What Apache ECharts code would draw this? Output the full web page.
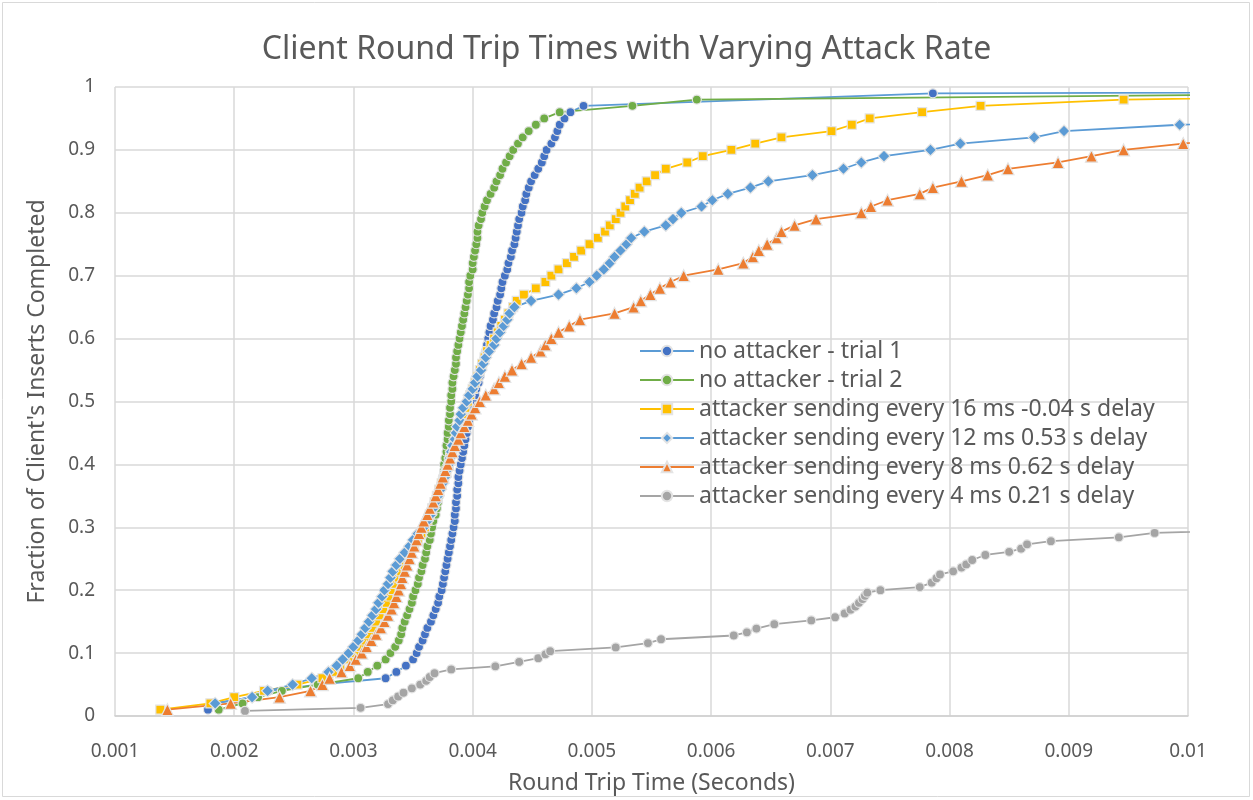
<!DOCTYPE html>
<html>
<head>
<meta charset="utf-8">
<script src="https://cdn.jsdelivr.net/npm/echarts@6/dist/echarts.min.js"></script>
<style>
html,body{margin:0;padding:0;background:#fff;}
#chart{width:1253px;height:800px;}
</style>
</head>
<body>
<div id="chart"></div>
<script>
const seriesNames = [
  "no attacker - trial 1",
  "no attacker - trial 2",
  "attacker sending every 16 ms -0.04 s delay",
  "attacker sending every 12 ms 0.53 s delay",
  "attacker sending every 8 ms 0.62 s delay",
  "attacker sending every 4 ms 0.21 s delay"
];
const xTicks = [0.001,0.002,0.003,0.004,0.005,0.006,0.007,0.008,0.009,0.01];
const yTicks = [0,0.1,0.2,0.3,0.4,0.5,0.6,0.7,0.8,0.9,1];

const trial1 = [[0.00178,0.01],[0.00183,0.02],[0.00215,0.03],[0.00229,0.04],[0.0027,0.05],[0.00327,0.06],[0.00336,0.07],[0.00344,0.08],[0.0035,0.09],[0.00353,0.10],[0.00355,0.11],[0.00358,0.12],[0.0036,0.13],[0.00362,0.14],[0.00365,0.15],[0.00367,0.16],[0.00369,0.17],[0.00371,0.18],[0.00372,0.19],[0.00374,0.20],[0.00375,0.21],[0.00376,0.22],[0.00377,0.23],[0.00378,0.24],[0.00379,0.25],[0.0038,0.26],[0.00381,0.27],[0.00382,0.28],[0.00383,0.29],[0.00384,0.30],[0.00385,0.31],[0.00385,0.32],[0.00386,0.33],[0.00386,0.34],[0.00387,0.35],[0.00387,0.36],[0.00388,0.37],[0.00388,0.38],[0.00389,0.39],[0.0039,0.40],[0.00391,0.41],[0.00392,0.42],[0.00393,0.43],[0.00394,0.44],[0.00395,0.45],[0.00396,0.46],[0.00397,0.47],[0.00398,0.48],[0.00399,0.49],[0.004,0.50],[0.00402,0.51],[0.00403,0.52],[0.00405,0.53],[0.00406,0.54],[0.00407,0.55],[0.00408,0.56],[0.0041,0.57],[0.00411,0.58],[0.00412,0.59],[0.00413,0.60],[0.00414,0.61],[0.00415,0.62],[0.00417,0.63],[0.00418,0.64],[0.0042,0.65],[0.00421,0.66],[0.00423,0.67],[0.00424,0.68],[0.00425,0.69],[0.00427,0.70],[0.00429,0.71],[0.0043,0.72],[0.00432,0.73],[0.00433,0.74],[0.00435,0.75],[0.00436,0.76],[0.00437,0.77],[0.00438,0.78],[0.00439,0.79],[0.00441,0.80],[0.00442,0.81],[0.00444,0.82],[0.00445,0.83],[0.00447,0.84],[0.00449,0.85],[0.00452,0.86],[0.00455,0.87],[0.00458,0.88],[0.0046,0.89],[0.00462,0.90],[0.00466,0.91],[0.00469,0.92],[0.00471,0.93],[0.00473,0.94],[0.00477,0.95],[0.00482,0.96],[0.00493,0.97],[0.00786,0.99],[0.03,1.0]];

const trial2 = [[0.00187,0.01],[0.00207,0.02],[0.0022,0.03],[0.0024,0.04],[0.0027,0.05],[0.00304,0.06],[0.00312,0.07],[0.0032,0.08],[0.00327,0.09],[0.00331,0.10],[0.00335,0.11],[0.00338,0.12],[0.0034,0.13],[0.00341,0.14],[0.00343,0.15],[0.00345,0.16],[0.00347,0.17],[0.00349,0.18],[0.0035,0.19],[0.00352,0.20],[0.00354,0.21],[0.00355,0.22],[0.00357,0.23],[0.00358,0.24],[0.0036,0.25],[0.00361,0.26],[0.00362,0.27],[0.00364,0.28],[0.00365,0.29],[0.00366,0.30],[0.00367,0.31],[0.00369,0.32],[0.0037,0.33],[0.00371,0.34],[0.00372,0.35],[0.00373,0.36],[0.00374,0.37],[0.00375,0.38],[0.00376,0.39],[0.00376,0.40],[0.00377,0.41],[0.00378,0.42],[0.00378,0.43],[0.00379,0.44],[0.00379,0.45],[0.0038,0.46],[0.0038,0.47],[0.00381,0.48],[0.00381,0.49],[0.00382,0.50],[0.00382,0.51],[0.00383,0.52],[0.00383,0.53],[0.00384,0.54],[0.00385,0.55],[0.00386,0.56],[0.00386,0.57],[0.00387,0.58],[0.00388,0.59],[0.00389,0.60],[0.0039,0.61],[0.00391,0.62],[0.00392,0.63],[0.00393,0.64],[0.00394,0.65],[0.00395,0.66],[0.00396,0.67],[0.00397,0.68],[0.00397,0.69],[0.00398,0.70],[0.004,0.71],[0.004,0.72],[0.00401,0.73],[0.00402,0.74],[0.00403,0.75],[0.00404,0.76],[0.00404,0.77],[0.00405,0.78],[0.00407,0.79],[0.00408,0.80],[0.0041,0.81],[0.00412,0.82],[0.00415,0.83],[0.00418,0.84],[0.0042,0.85],[0.00423,0.86],[0.00425,0.87],[0.00428,0.88],[0.00431,0.89],[0.00434,0.90],[0.00438,0.91],[0.00442,0.92],[0.00447,0.93],[0.00453,0.94],[0.0046,0.95],[0.00473,0.96],[0.00534,0.97],[0.00588,0.98],[0.0118,0.99]];

const attack16 = [[0.00138,0.01],[0.0018,0.02],[0.002,0.03],[0.00225,0.04],[0.00253,0.05],[0.00274,0.06],[0.00283,0.07],[0.00289,0.08],[0.00296,0.09],[0.00302,0.10],[0.00306,0.11],[0.0031,0.12],[0.00313,0.13],[0.00316,0.14],[0.00319,0.15],[0.00322,0.16],[0.00325,0.17],[0.00328,0.18],[0.00331,0.19],[0.00333,0.20],[0.00335,0.21],[0.00338,0.22],[0.0034,0.23],[0.00343,0.24],[0.00346,0.25],[0.00348,0.26],[0.00351,0.27],[0.00354,0.28],[0.00357,0.29],[0.0036,0.30],[0.00362,0.31],[0.00364,0.32],[0.00366,0.33],[0.00368,0.34],[0.0037,0.35],[0.00372,0.36],[0.00374,0.37],[0.00376,0.38],[0.00378,0.39],[0.0038,0.40],[0.00381,0.41],[0.00383,0.42],[0.00384,0.43],[0.00386,0.44],[0.00387,0.45],[0.00389,0.46],[0.0039,0.47],[0.00392,0.48],[0.00394,0.49],[0.00396,0.50],[0.00398,0.51],[0.004,0.52],[0.00402,0.53],[0.00404,0.54],[0.00406,0.55],[0.00408,0.56],[0.0041,0.57],[0.00412,0.58],[0.00415,0.59],[0.00418,0.60],[0.00421,0.61],[0.00424,0.62],[0.00427,0.63],[0.0043,0.64],[0.00434,0.65],[0.00437,0.66],[0.00443,0.67],[0.00453,0.68],[0.00461,0.69],[0.00466,0.70],[0.00472,0.71],[0.00479,0.72],[0.00485,0.73],[0.00491,0.74],[0.00498,0.75],[0.00505,0.76],[0.00511,0.77],[0.00515,0.78],[0.0052,0.79],[0.00524,0.80],[0.00528,0.81],[0.00532,0.82],[0.00536,0.83],[0.0054,0.84],[0.00546,0.85],[0.00553,0.86],[0.00562,0.87],[0.0058,0.88],[0.00593,0.89],[0.00617,0.90],[0.00637,0.91],[0.00659,0.92],[0.00701,0.93],[0.00718,0.94],[0.00733,0.95],[0.00777,0.96],[0.00826,0.97],[0.00946,0.98],[0.013,0.99]];

const attack12 = [[0.00184,0.02],[0.00215,0.03],[0.00228,0.04],[0.00249,0.05],[0.00265,0.06],[0.00279,0.07],[0.00286,0.08],[0.00291,0.09],[0.00296,0.10],[0.003,0.11],[0.00304,0.12],[0.00307,0.13],[0.0031,0.14],[0.00313,0.15],[0.00316,0.16],[0.00319,0.17],[0.00321,0.18],[0.00324,0.19],[0.00326,0.20],[0.00329,0.21],[0.00331,0.22],[0.00333,0.23],[0.00336,0.24],[0.00339,0.25],[0.00343,0.26],[0.00347,0.27],[0.0035,0.28],[0.00354,0.29],[0.00359,0.30],[0.00362,0.31],[0.00365,0.32],[0.00367,0.33],[0.00369,0.34],[0.00371,0.35],[0.00373,0.36],[0.00375,0.37],[0.00377,0.38],[0.00378,0.39],[0.0038,0.40],[0.00381,0.41],[0.00382,0.42],[0.00383,0.43],[0.00385,0.44],[0.00386,0.45],[0.00387,0.46],[0.00389,0.47],[0.0039,0.48],[0.00392,0.49],[0.00395,0.50],[0.00397,0.51],[0.004,0.52],[0.00402,0.53],[0.00404,0.54],[0.00407,0.55],[0.00409,0.56],[0.00411,0.57],[0.00414,0.58],[0.00418,0.59],[0.0042,0.60],[0.00423,0.61],[0.00426,0.62],[0.00429,0.63],[0.00431,0.64],[0.00435,0.65],[0.00449,0.66],[0.00472,0.67],[0.00487,0.68],[0.00498,0.69],[0.00504,0.70],[0.0051,0.71],[0.00515,0.72],[0.00519,0.73],[0.00524,0.74],[0.00529,0.75],[0.00533,0.76],[0.00544,0.77],[0.00562,0.78],[0.00568,0.79],[0.00575,0.80],[0.00592,0.81],[0.00601,0.82],[0.00614,0.83],[0.00633,0.84],[0.00648,0.85],[0.00685,0.86],[0.00711,0.87],[0.00726,0.88],[0.00745,0.89],[0.00784,0.90],[0.00809,0.91],[0.00871,0.92],[0.00896,0.93],[0.00993,0.94],[0.0115,0.95]];

const attack8 = [[0.00144,0.01],[0.00197,0.02],[0.00238,0.03],[0.00264,0.04],[0.00274,0.05],[0.0028,0.06],[0.0029,0.07],[0.00297,0.08],[0.00302,0.09],[0.00307,0.10],[0.00311,0.11],[0.00315,0.12],[0.00319,0.13],[0.00323,0.14],[0.00326,0.15],[0.00329,0.16],[0.00332,0.17],[0.00334,0.18],[0.00336,0.19],[0.00338,0.20],[0.0034,0.21],[0.00341,0.22],[0.00343,0.23],[0.00345,0.24],[0.00347,0.25],[0.00349,0.26],[0.00351,0.27],[0.00353,0.28],[0.00355,0.29],[0.00357,0.30],[0.00359,0.31],[0.00362,0.32],[0.00364,0.33],[0.00367,0.34],[0.00369,0.35],[0.00371,0.36],[0.00373,0.37],[0.00375,0.38],[0.00377,0.39],[0.00379,0.40],[0.00381,0.41],[0.00383,0.42],[0.00385,0.43],[0.00388,0.44],[0.0039,0.45],[0.00393,0.46],[0.00396,0.47],[0.00399,0.48],[0.00402,0.49],[0.00406,0.50],[0.00411,0.51],[0.00418,0.52],[0.00422,0.53],[0.00427,0.54],[0.00433,0.55],[0.00441,0.56],[0.00449,0.57],[0.00457,0.58],[0.00461,0.59],[0.00466,0.60],[0.00472,0.61],[0.00481,0.62],[0.0049,0.63],[0.00519,0.64],[0.00535,0.65],[0.00541,0.66],[0.00549,0.67],[0.00557,0.68],[0.00566,0.69],[0.00577,0.70],[0.00606,0.71],[0.00627,0.72],[0.00635,0.73],[0.0064,0.74],[0.00647,0.75],[0.00655,0.76],[0.00659,0.77],[0.0067,0.78],[0.00688,0.79],[0.00726,0.80],[0.00734,0.81],[0.00748,0.82],[0.00775,0.83],[0.00786,0.84],[0.0081,0.85],[0.00832,0.86],[0.00849,0.87],[0.00891,0.88],[0.00919,0.89],[0.00946,0.90],[0.00996,0.91],[0.0105,0.92]];

const attack4 = [[0.00209,0.008],[0.00306,0.013],[0.00329,0.019],[0.00333,0.025],[0.003375,0.031],[0.00342,0.037],[0.00349,0.044],[0.00356,0.05],[0.00361,0.056],[0.00364,0.062],[0.00368,0.068],[0.00382,0.074],[0.00419,0.079],[0.00439,0.086],[0.00455,0.092],[0.00461,0.098],[0.00465,0.103],[0.0052,0.109],[0.00547,0.116],[0.00558,0.122],[0.00619,0.128],[0.0063,0.133],[0.00638,0.139],[0.00653,0.146],[0.00684,0.152],[0.00704,0.157],[0.00712,0.163],[0.00717,0.169],[0.00721,0.174],[0.00724,0.18],[0.00727,0.186],[0.00729,0.191],[0.00731,0.196],[0.00742,0.2],[0.00775,0.205],[0.00785,0.212],[0.00789,0.219],[0.00792,0.225],[0.00803,0.23],[0.0081,0.236],[0.00814,0.241],[0.00819,0.248],[0.0083,0.256],[0.0085,0.261],[0.0086,0.266],[0.00865,0.273],[0.00885,0.278],[0.00942,0.284],[0.00972,0.291],[0.0108,0.297]];

const chart = echarts.init(document.getElementById('chart'), null, {renderer:'canvas'});
const FONT = '"Noto Sans", "Open Sans", sans-serif';
const TXT = '#595959';
const border = {borderColor:'#e4e4e4', borderWidth:1.2};

function mk(name, data, symbol, size, lineColor, markColor){
  return {
    name, type:'line', data, symbol, symbolSize:size,
    showSymbol:true, clip:true, animation:false,
    lineStyle:{color:lineColor, width:1.8},
    itemStyle:Object.assign({color:markColor}, border),
    emphasis:{disabled:true}
  };
}

const option = {
  backgroundColor:'#ffffff',
  animation:false,
  title:{
    text:'Client Round Trip Times with Varying Attack Rate',
    left:'center', top:29,
    textStyle:{fontFamily:FONT, fontSize:32, fontWeight:'normal', color:TXT}
  },
  graphic:[{type:'rect', shape:{x:2.5,y:2.5,width:1247,height:794}, style:{fill:'none', stroke:'#d9d9d9', lineWidth:1}, silent:true}],
  legend:{
    orient:'vertical', left:634, top:334,
    itemWidth:54, itemHeight:13, itemGap:5,
    textStyle:{fontFamily:FONT, fontSize:23, color:TXT, lineHeight:24},
    data:seriesNames
  },
  grid:{left:115, top:87, width:1073, height:631, containLabel:false},
  xAxis:{
    type:'value', min:xTicks[0], max:xTicks[xTicks.length-1], interval:0.001,
    name:'Round Trip Time (Seconds)', nameLocation:'middle', nameGap:56,
    nameTextStyle:{fontFamily:FONT, fontSize:23, color:TXT},
    axisLine:{show:true, lineStyle:{color:'#d0d0d0', width:1.5}},
    axisTick:{show:false},
    axisLabel:{fontFamily:FONT, fontSize:19, color:TXT, margin:26,
      formatter:v=>String(+v.toFixed(3))},
    splitLine:{show:true, lineStyle:{color:'#d9d9d9', width:1.5}}
  },
  yAxis:{
    type:'value', min:yTicks[0], max:yTicks[yTicks.length-1], interval:0.1,
    name:"Fraction of Client's Inserts Completed", nameLocation:'middle', nameGap:66,
    nameTextStyle:{fontFamily:FONT, fontSize:23, color:TXT},
    axisLine:{show:false}, axisTick:{show:false},
    axisLabel:{fontFamily:FONT, fontSize:19, color:TXT, margin:20,
      formatter:v=>String(+v.toFixed(1))},
    splitLine:{show:true, lineStyle:{color:'#d9d9d9', width:1.5}}
  },
  series:[
    mk(seriesNames[0], trial1, 'circle', 9, '#5B9BD5', '#4472C4'),
    mk(seriesNames[1], trial2, 'circle', 9, '#70AD47', '#70AD47'),
    mk(seriesNames[2], attack16, 'rect', 9, '#FFC000', '#FFC000'),
    mk(seriesNames[3], attack12, 'diamond', 12, '#5B9BD5', '#5B9BD5'),
    mk(seriesNames[4], attack8, 'triangle', 12, '#ED7D31', '#ED7D31'),
    mk(seriesNames[5], attack4, 'circle', 9, '#A5A5A5', '#A5A5A5')
  ]
};
chart.setOption(option);
</script>
</body>
</html>
